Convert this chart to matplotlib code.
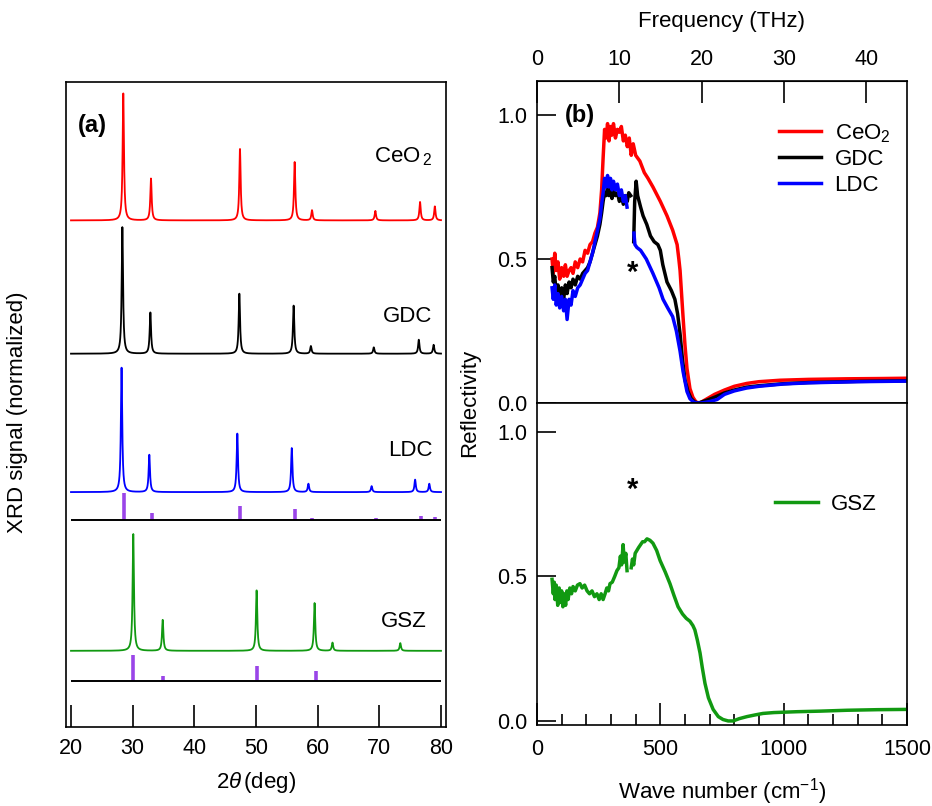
import numpy as np
import matplotlib
matplotlib.use('Agg')
import matplotlib.pyplot as plt

plt.rcParams['font.family'] = ['Liberation Sans', 'DejaVu Sans']
plt.rcParams['mathtext.fontset'] = 'custom'
plt.rcParams['mathtext.rm'] = 'Liberation Sans'
plt.rcParams['mathtext.it'] = 'Liberation Sans:italic'
plt.rcParams['font.size'] = 15.5

# ---- (a) XRD peaks: position (deg), relative height ----
ceo2_pos = [28.48, 32.97, 47.40, 56.27, 59.08, 69.35, 76.60, 79.00]
ceo2_h = [1.00, 0.33, 0.565, 0.46, 0.08, 0.075, 0.145, 0.11]
gdc_pos = [28.33, 32.87, 47.30, 56.10, 58.90, 69.10, 76.40, 78.80]
gdc_h = [1.00, 0.325, 0.475, 0.38, 0.06, 0.05, 0.11, 0.07]
ldc_pos = [28.20, 32.70, 46.97, 55.80, 58.50, 68.75, 75.80, 78.10]
ldc_h = [1.00, 0.30, 0.47, 0.355, 0.067, 0.048, 0.10, 0.067]
gsz_pos = [30.10, 34.87, 50.10, 59.50, 62.40, 73.40]
gsz_h = [1.00, 0.265, 0.52, 0.41, 0.07, 0.066]

# reference patterns (purple bars)
ref_c_pos = [28.55, 33.08, 47.48, 56.34, 59.09, 69.40, 76.70, 79.07]
ref_c_h = [0.21, 0.057, 0.108, 0.087, 0.016, 0.016, 0.031, 0.024]
ref_z_pos = [30.10, 34.90, 50.20, 59.70, 62.60, 74.00]
ref_z_h = [0.205, 0.04, 0.12, 0.079, 0.008, 0.013]

# ---- (b) reflectivity ----
ceo2_k = [61, 66, 72, 78, 85, 92, 100, 108, 115, 122, 130, 138, 146, 155, 165, 175, 185, 195,
          205, 215, 225, 235, 245, 255, 262, 268, 274, 280, 286, 292, 298, 304, 310, 318, 326,
          334, 342, 350, 358, 366, 374, 382, 390, 400, 417, 435, 450, 470, 500, 527, 550, 568,
          575, 580, 586, 592, 600, 608, 620, 632, 645, 660, 680, 720, 760, 800, 851, 900, 985,
          1100, 1256, 1400, 1500]
ceo2_r = [0.50, 0.45, 0.52, 0.46, 0.49, 0.43, 0.47, 0.44, 0.48, 0.44, 0.46, 0.47, 0.45, 0.49,
          0.47, 0.50, 0.49, 0.53, 0.52, 0.55, 0.56, 0.59, 0.61, 0.66, 0.74, 0.85, 0.95, 0.92,
          0.97, 0.91, 0.96, 0.93, 0.97, 0.92, 0.95, 0.94, 0.96, 0.91, 0.93, 0.89, 0.92, 0.86,
          0.90, 0.86, 0.84, 0.80, 0.78, 0.75, 0.70, 0.65, 0.60, 0.55, 0.50, 0.46, 0.38, 0.30,
          0.20, 0.12, 0.05, 0.02, 0.003, 0.0, 0.01, 0.03, 0.045, 0.058, 0.068, 0.074, 0.079,
          0.082, 0.084, 0.085, 0.086]

gdc_k = [61, 66, 72, 78, 85, 92, 100, 108, 115, 122, 130, 138, 146, 155, 165, 175, 185, 195,
         205, 215, 225, 235, 245, 255, 262, 268, 274, 280, 286, 292, 298, 304, 310, 318, 326,
         334, 342, 350, 358, 366, 372, 380, 385, 392, 396, 402, 408, 420, 430, 445, 460, 475,
         490, 500, 510, 527, 545, 559, 570, 580, 590, 600, 612, 625, 640, 655, 690, 720, 760,
         800, 850, 900, 1000, 1100, 1200, 1300, 1400, 1500]
gdc_r = [0.47, 0.42, 0.44, 0.38, 0.41, 0.37, 0.40, 0.36, 0.41, 0.38, 0.42, 0.40, 0.43, 0.41,
         0.44, 0.43, 0.45, 0.46, 0.47, 0.49, 0.52, 0.55, 0.58, 0.62, 0.66, 0.70, 0.73, 0.72,
         0.75, 0.72, 0.74, 0.71, 0.74, 0.72, 0.73, 0.70, 0.72, 0.69, 0.72, 0.70, 0.73, 0.72,
         np.nan, 0.56, 0.70, 0.77, 0.72, 0.68, 0.65, 0.62, 0.58, 0.56, 0.55, 0.53, 0.48, 0.42,
         0.39, 0.36, 0.31, 0.24, 0.15, 0.08, 0.04, 0.015, 0.003, 0.0, 0.01, 0.02, 0.035, 0.045,
         0.055, 0.06, 0.067, 0.071, 0.073, 0.075, 0.076, 0.077]

ldc_k = [61, 66, 72, 78, 85, 92, 100, 108, 115, 122, 130, 138, 146, 155, 165, 175, 185, 195,
         205, 215, 225, 235, 245, 255, 262, 268, 274, 280, 286, 292, 298, 304, 310, 318, 326,
         334, 342, 350, 358, 365, 370, 393, 397, 405, 420, 443, 470, 495, 511, 530, 550, 565,
         580, 592, 608, 620, 635, 650, 665, 700, 730, 760, 800, 850, 900, 1000, 1100, 1200,
         1300, 1400, 1500]
ldc_r = [0.40, 0.36, 0.41, 0.34, 0.38, 0.33, 0.37, 0.32, 0.36, 0.29, 0.36, 0.34, 0.39, 0.37,
         0.40, 0.41, 0.43, 0.45, 0.46, 0.49, 0.52, 0.56, 0.60, 0.64, 0.69, 0.73, 0.78, 0.75,
         0.79, 0.75, 0.78, 0.74, 0.77, 0.74, 0.76, 0.72, 0.74, 0.70, 0.72, 0.68, np.nan, 0.59,
         0.55, 0.54, 0.53, 0.50, 0.45, 0.40, 0.36, 0.33, 0.30, 0.25, 0.18, 0.11, 0.04, 0.015,
         0.003, 0.0, 0.0, 0.005, 0.012, 0.03, 0.042, 0.052, 0.058, 0.066, 0.07, 0.072, 0.074,
         0.075, 0.076]

gsz_k = [61, 66, 70, 73, 78, 84, 90, 95, 100, 105, 110, 116, 121, 126, 133, 140, 146, 155,
         164, 174, 183, 193, 203, 213, 223, 233, 243, 252, 260, 268, 276, 283, 290, 296, 305,
         315, 324, 332, 338, 343, 349, 354, 360, 365, 370, 382, 387, 392, 398, 405, 412, 420,
         428, 436, 446, 458, 470, 485, 499, 520, 539, 555, 572, 590, 605, 620, 632, 640, 650,
         661, 670, 681, 695, 714, 735, 754, 775, 795, 820, 851, 885, 916, 960, 1054, 1150,
         1257, 1380, 1500]
gsz_r = [0.49, 0.44, 0.48, 0.42, 0.47, 0.40, 0.46, 0.41, 0.45, 0.395, 0.44, 0.40, 0.45, 0.42,
         0.46, 0.44, 0.465, 0.45, 0.47, 0.475, 0.46, 0.47, 0.45, 0.44, 0.45, 0.43, 0.44, 0.42,
         0.44, 0.42, 0.44, 0.46, 0.45, 0.475, 0.48, 0.50, 0.52, 0.53, 0.57, 0.54, 0.61, 0.55,
         0.58, 0.52, np.nan, 0.53, 0.56, 0.54, 0.58, 0.59, 0.60, 0.61, 0.62, 0.62, 0.63, 0.625,
         0.615, 0.59, 0.555, 0.515, 0.475, 0.435, 0.395, 0.37, 0.355, 0.345, 0.33, 0.315, 0.28,
         0.235, 0.185, 0.13, 0.08, 0.04, 0.015, 0.005, 0.0, 0.0, 0.008, 0.015, 0.021, 0.026,
         0.029, 0.032, 0.034, 0.037, 0.039, 0.04]

red, black, blue, green, purple = '#ff0000', '#000000', '#0000ff', '#119911', '#9a45e8'


def pattern(tt, pos, h, scale, w=0.13):
    y = np.zeros_like(tt)
    for p, a in zip(pos, h):
        y += a * scale / (1 + ((tt - p) / w) ** 2)
    return y


fig = plt.figure(figsize=(9.32, 8.06), dpi=100)
ax = fig.add_axes([66/932, 79/806, 380/932, 645/806])
axt = fig.add_axes([537/932, 0.5, 370/932, 322/806])
axb = fig.add_axes([537/932, 81/806, 370/932, 322/806])

# (a)
tt = np.linspace(20, 80, 3000)
ax.plot(tt, 3.99 + pattern(tt, ceo2_pos, ceo2_h, 1.0), color=red, lw=1.3)
ax.plot(tt, 2.94 + pattern(tt, gdc_pos, gdc_h, 1.0), color=black, lw=1.3)
ax.plot(tt, 1.85 + pattern(tt, ldc_pos, ldc_h, 0.98), color=blue, lw=1.3)
ax.plot(tt, 0.60 + pattern(tt, gsz_pos, gsz_h, 0.92), color=green, lw=1.3)
ax.vlines(ref_c_pos, 1.63, 1.63 + np.array(ref_c_h), color=purple, lw=2.6)
ax.hlines(1.63, 20, 80, color='k', lw=1.4)
ax.vlines(ref_z_pos, 0.36, 0.36 + np.array(ref_z_h), color=purple, lw=2.6)
ax.hlines(0.36, 20, 80, color='k', lw=1.4)
ax.set_xlim(19.19, 80.81)
ax.set_ylim(0, 5.08)
ax.set_yticks([])
ax.set_xticks(range(20, 81, 10))
ax.tick_params(axis='x', direction='in', length=16, width=1.2, pad=8)
ax.set_xlabel(r'2$\it{\theta}\,$(deg)', labelpad=8, fontsize=16)
ax.text(0.03, 0.95, '(a)', transform=ax.transAxes, fontsize=17, fontweight='bold', va='top')
ax.text(69.1, 4.49, r'CeO$_{\,2}$', ha='left', va='center', fontsize=16)
ax.text(74.6, 3.23, 'GDC', ha='center', va='center', fontsize=16)
ax.text(75.0, 2.18, 'LDC', ha='center', va='center', fontsize=16)
ax.text(73.9, 0.83, 'GSZ', ha='center', va='center', fontsize=16)
fig.text(18/932, 1 - 412/806, 'XRD signal (normalized)', rotation=90, ha='center', va='center',
         fontsize=16)

# (b)
axt.plot(ceo2_k, ceo2_r, color=red, lw=2.5, label=r'CeO$_2$')
axt.plot(gdc_k, gdc_r, color=black, lw=2.5, label='GDC')
axt.plot(ldc_k, ldc_r, color=blue, lw=2.5, label='LDC')
axb.plot(gsz_k, gsz_r, color=green, lw=2.5, label='GSZ')

for a in (axt, axb):
    a.set_xlim(0, 1500)
    a.set_yticks([0.0, 0.5, 1.0])
    a.tick_params(axis='y', direction='in', length=14, width=1.2, pad=7)
    for s in a.spines.values():
        s.set_linewidth(1.2)
for s in ax.spines.values():
    s.set_linewidth(1.2)

axt.set_ylim(0, 1.118)
axb.set_ylim(-0.014, 1.10)
axt.tick_params(axis='x', bottom=False, labelbottom=False)

sec = axt.secondary_xaxis('top', functions=(lambda k: k / 33.356, lambda f: f * 33.356))
sec.set_xticks([0, 10, 20, 30, 40])
sec.tick_params(direction='in', length=16, width=1.2, pad=8)
sec.set_xlabel('Frequency (THz)', labelpad=16, fontsize=16)

axb.set_xticks([0, 500, 1000, 1500])
axb.set_xticks(range(100, 1500, 100), minor=True)
axb.tick_params(axis='x', which='major', direction='in', length=16, width=1.2, pad=10)
axb.tick_params(axis='x', which='minor', direction='in', length=8, width=1.2)
axb.set_xlabel(r'Wave number (cm$^{-1}$)', labelpad=12, fontsize=16)

axt.text(0.076, 0.93, '(b)', transform=axt.transAxes, fontsize=17, fontweight='bold', va='top')
axt.text(389, 0.45, '*', fontsize=21, fontweight='bold', ha='center', va='center')
axb.text(389, 0.80, '*', fontsize=21, fontweight='bold', ha='center', va='center')
fig.text(470/932, 0.5, 'Reflectivity', rotation=90, ha='center', va='center', fontsize=16)

axt.legend(loc='upper left', bbox_to_anchor=(0.63, 0.90), frameon=False, handlelength=1.9,
           handletextpad=0.6, labelspacing=0.2, borderaxespad=0, fontsize=16)
axb.legend(loc='upper left', bbox_to_anchor=(0.62, 0.745), frameon=False, handlelength=1.9,
           handletextpad=0.6, borderaxespad=0, fontsize=16)

fig.savefig('out.png', dpi=100)
